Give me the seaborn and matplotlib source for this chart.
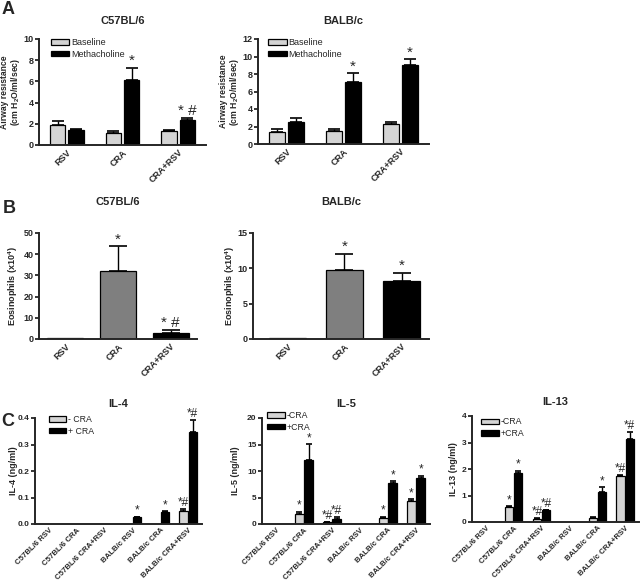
import pandas as pd
import matplotlib
matplotlib.use('Agg')
import matplotlib.pyplot as plt
import seaborn as sns

sns.set_style('ticks')
plt.rcParams['font.family'] = ['Liberation Sans', 'DejaVu Sans']
plt.rcParams['mathtext.fontset'] = 'custom'
plt.rcParams['mathtext.rm'] = 'Liberation Sans'
plt.rcParams['mathtext.bf'] = 'Liberation Sans:bold'
plt.rcParams['mathtext.default'] = 'bf'

LIGHT = '#d4d4d4'
MID = '#7f7f7f'

# ---- data (mean and upper error) ----
treat = ['RSV', 'CRA', 'CRA+RSV']

a_c57_base = [1.84, 1.14, 1.36]
a_c57_base_err = [0.44, 0.22, 0.06]
a_c57_mch = [1.46, 6.10, 2.37]
a_c57_mch_err = [0.06, 1.20, 0.16]
a_c57_ann = [['', '', ''], ['', '*', '* #']]

a_balb_base = [1.33, 1.49, 2.25]
a_balb_base_err = [0.35, 0.19, 0.30]
a_balb_mch = [2.55, 7.12, 9.00]
a_balb_mch_err = [0.38, 0.96, 0.68]
a_balb_ann = [['', '', ''], ['', '*', '*']]

b_c57 = [0.3, 31.9, 3.0]
b_c57_err = [0.0, 11.8, 1.1]
b_c57_ann = ['', '*', '* #']
b_balb = [0.15, 9.7, 8.2]
b_balb_err = [0.0, 2.3, 1.1]
b_balb_ann = ['', '*', '*']

groups = ['C57BL/6 RSV', 'C57BL/6 CRA', 'C57BL/6 CRA+RSV',
          'BALB/c RSV', 'BALB/c CRA', 'BALB/c CRA+RSV']

il4_minus = [0, 0, 0, 0, 0, 0.050]
il4_minus_err = [0, 0, 0, 0, 0, 0.008]
il4_plus = [0, 0, 0, 0.025, 0.047, 0.346]
il4_plus_err = [0, 0, 0, 0.002, 0.002, 0.045]
il4_ann = [['', '', '', '', '', '*#'], ['', '', '', '*', '*', '*#']]

il5_minus = [0, 1.8, 0.3, 0, 1.2, 4.35]
il5_minus_err = [0, 0.5, 0.1, 0, 0.2, 0.35]
il5_plus = [0, 12.1, 0.95, 0, 7.7, 8.7]
il5_plus_err = [0, 3.0, 0.45, 0, 0.4, 0.4]
il5_ann = [['', '*', '*#', '', '*', '*'], ['', '*', '*#', '', '*', '*']]

il13_minus = [0, 0.58, 0.11, 0, 0.16, 1.73]
il13_minus_err = [0, 0.02, 0.04, 0, 0.02, 0.03]
il13_plus = [0, 1.84, 0.44, 0, 1.15, 3.15]
il13_plus_err = [0, 0.09, 0.03, 0, 0.17, 0.24]
il13_ann = [['', '*', '*#', '', '', '*#'], ['', '*', '*#', '', '*', '*#']]


def px_axes(fig, x0, x1, ytop, ybot):
    W, H = 640, 581
    return fig.add_axes([x0 / W, 1 - ybot / H, (x1 - x0) / W, (ybot - ytop) / H])


def style_axes(ax, ylim, yticks, fmt=None, tick_fs=6.5, xtick_fs=None):
    sns.despine(ax=ax)
    for s in ['left', 'bottom']:
        ax.spines[s].set_linewidth(1.4)
    ax.set_ylim(*ylim)
    ax.set_yticks(yticks)
    if fmt:
        ax.set_yticklabels([fmt.format(t) for t in yticks])
    ax.tick_params(axis='y', width=1.3, length=3, labelsize=tick_fs, pad=1)
    ax.tick_params(axis='x', length=0, labelsize=xtick_fs or tick_fs, pad=2)
    for lab in ax.get_yticklabels():
        lab.set_fontweight('bold')
    for lab in ax.get_xticklabels():
        lab.set_rotation(45)
        lab.set_ha('right')
        lab.set_rotation_mode('anchor')
        lab.set_fontweight('bold')
    ax.set_xlabel('')


def set_ylabel(ax, text, xpos, fs=6.5):
    ax.set_ylabel(text, fontsize=fs, fontweight='bold', linespacing=1.0)
    ax.yaxis.set_label_coords(xpos, 0.5)


def add_err(ax, containers, errs, anns, capsize, star_fs):
    for cont, err, ann in zip(containers, errs, anns):
        for bar, e, a in zip(cont, err, ann):
            x = bar.get_x() + bar.get_width() / 2
            h = bar.get_height()
            if e > 0:
                ax.errorbar(x, h, yerr=[[0], [e]], fmt='none', ecolor='black',
                            elinewidth=1, capsize=capsize, capthick=1.2, zorder=1)
            if a:
                ax.text(x, h + e, a, ha='center', va='bottom', fontsize=star_fs)


def grouped(ax, cats, v1, e1, v2, e2, labels, anns, width, gap, capsize, star_fs,
            leg_pos, leg_fs):
    n = len(cats)
    df = pd.DataFrame({'group': cats * 2,
                       'cond': [labels[0]] * n + [labels[1]] * n,
                       'value': v1 + v2})
    sns.barplot(data=df, x='group', y='value', hue='cond', palette=[LIGHT, 'black'],
                edgecolor='black', linewidth=0.9, width=width, gap=gap,
                errorbar=None, ax=ax, zorder=2)
    add_err(ax, ax.containers, [e1, e2], anns, capsize, star_fs)
    leg = ax.get_legend()
    handles = leg.legend_handles
    names = [t.get_text() for t in leg.texts]
    ax.legend(handles, names, loc='upper left', bbox_to_anchor=leg_pos,
              frameon=False, fontsize=leg_fs, handlelength=2.0, handleheight=0.6,
              handletextpad=0.2, labelspacing=0.3, borderaxespad=0)


def single(ax, cats, vals, errs, ann, colors, width, capsize, star_fs):
    df = pd.DataFrame({'group': cats, 'value': vals})
    sns.barplot(data=df, x='group', y='value', hue='group', palette=colors,
                edgecolor='black', linewidth=0.9, width=width, errorbar=None,
                legend=False, ax=ax, zorder=2)
    add_err(ax, [[p for p in ax.patches]], [errs], [ann], capsize, star_fs)


fig = plt.figure(figsize=(6.4, 5.81), dpi=100)
air_label = 'Airway resistance\n(cm H$_2$O/ml/sec)'

# ---- Panel A ----
ax = px_axes(fig, 39, 206, 39, 145)
grouped(ax, treat, a_c57_base, a_c57_base_err, a_c57_mch, a_c57_mch_err,
        ['Baseline', 'Methacholine'], a_c57_ann, 0.66, 0.15, 4.3, 11,
        (0.05, 1.045), 6.5)
ax.set_xlim(-0.5, 2.5)
style_axes(ax, (0, 10), [0, 2, 4, 6, 8, 10])
set_ylabel(ax, air_label, -0.1, fs=6.2)
ax.set_title('C57BL/6', fontsize=8, fontweight='bold', pad=11)

ax = px_axes(fig, 258, 429, 39, 144)
grouped(ax, treat, a_balb_base, a_balb_base_err, a_balb_mch, a_balb_mch_err,
        ['Baseline', 'Methacholine'], a_balb_ann, 0.66, 0.15, 4.3, 11,
        (0.04, 1.045), 6.5)
ax.set_xlim(-0.5, 2.5)
style_axes(ax, (0, 12), [0, 2, 4, 6, 8, 10, 12])
set_ylabel(ax, air_label, -0.1, fs=6.2)
ax.set_title('BALB/c', fontsize=8, fontweight='bold', pad=11)

# ---- Panel B ----
ax = px_axes(fig, 39, 197, 233, 339)
single(ax, treat, b_c57, b_c57_err, b_c57_ann, [MID, MID, 'black'], 0.68, 6.5, 11)
ax.set_xlim(-0.5, 2.5)
style_axes(ax, (0, 50), [0, 10, 20, 30, 40, 50])
set_ylabel(ax, 'Eosinophils (x10$^4$)', -0.12)
ax.set_title('C57BL/6', fontsize=8, fontweight='bold', pad=20)

ax = px_axes(fig, 253, 429, 233, 339)
single(ax, treat, b_balb, b_balb_err, b_balb_ann, [MID, MID, 'black'], 0.65, 6.5, 11)
ax.set_xlim(-0.6, 2.48)
style_axes(ax, (0, 15), [0, 5, 10, 15])
set_ylabel(ax, 'Eosinophils (x10$^4$)', -0.092)
ax.set_title('BALB/c', fontsize=8, fontweight='bold', pad=20)

# ---- Panel C ----
ax = px_axes(fig, 35, 202, 418, 524)
grouped(ax, groups, il4_minus, il4_minus_err, il4_plus, il4_plus_err,
        ['- CRA', '+ CRA'], il4_ann, 0.66, 0.1, 2.5, 8.5, (0.06, 1.06), 6.3)
ax.set_xlim(-0.5, 5.5)
style_axes(ax, (0, 0.4), [0, 0.1, 0.2, 0.3, 0.4], fmt='{:.1f}', tick_fs=6, xtick_fs=5.6)
set_ylabel(ax, 'IL-4 (ng/ml)', -0.1)
ax.set_title('IL-4', fontsize=8, fontweight='bold', pad=8)

ax = px_axes(fig, 262, 430, 418, 524)
grouped(ax, groups, il5_minus, il5_minus_err, il5_plus, il5_plus_err,
        ['-CRA', '+CRA'], il5_ann, 0.66, 0.1, 2.5, 8.5, (0.01, 1.1), 6.3)
ax.set_xlim(-0.5, 5.5)
style_axes(ax, (0, 20), [0, 5, 10, 15, 20], tick_fs=6, xtick_fs=5.6)
set_ylabel(ax, 'IL-5 (ng/ml)', -0.13)
ax.set_title('IL-5', fontsize=8, fontweight='bold', pad=8)

ax = px_axes(fig, 472, 639, 416, 522)
grouped(ax, groups, il13_minus, il13_minus_err, il13_plus, il13_plus_err,
        ['-CRA', '+CRA'], il13_ann, 0.66, 0.1, 2.5, 8.5, (0.035, 1.02), 6.3)
ax.set_xlim(-0.5, 5.5)
style_axes(ax, (0, 4), [0, 1, 2, 3, 4], tick_fs=6, xtick_fs=5.6)
set_ylabel(ax, 'IL-13 (ng/ml)', -0.085)
ax.set_title('IL-13', fontsize=8, fontweight='bold', pad=8)

# panel letters
fig.text(0.002, 0.998, 'A', fontsize=13, fontweight='bold', va='top')
fig.text(0.005, 0.655, 'B', fontsize=13, fontweight='bold', va='top')
fig.text(0.002, 0.29, 'C', fontsize=13, fontweight='bold', va='top')

fig.savefig('out.png', dpi=100)
